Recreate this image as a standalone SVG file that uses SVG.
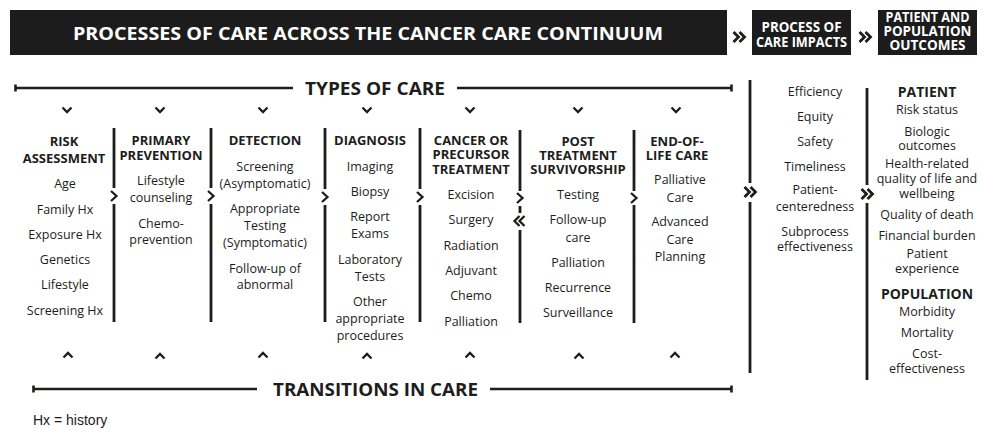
<svg xmlns="http://www.w3.org/2000/svg" width="986" height="432" viewBox="0 0 986 432">
  <defs>
    <style>
      text { font-family: "Open Sans", "Noto Sans", "Liberation Sans", sans-serif; fill: #1d1d1b; text-anchor: middle; }
      .t { font-size: 12.5px; }
      .h { font-size: 13px; font-weight: bold; }
      .hb { font-size: 14px; font-weight: bold; }
      .band { font-size: 18.5px; font-weight: bold; }
      .inv { fill: #ffffff; font-weight: bold; }
      .note { font-family: "Liberation Sans", Arial, sans-serif; font-size: 14px; text-anchor: start; }
      .bar { fill: #1c1c1c; }
      .rule { stroke: #1d1d1b; stroke-width: 2.6; fill: none; }
      .sep { stroke: #1d1d1b; stroke-width: 2.8; fill: none; }
      .chev { stroke: #1d1d1b; stroke-width: 2.3; fill: none; stroke-linecap: butt; stroke-linejoin: miter; }
      .chev2 { stroke: #1d1d1b; stroke-width: 2.8; fill: none; stroke-linejoin: miter; }
    </style>
    <!-- small chevrons used along the rules and separators -->
    <path id="down" class="chev" d="M-4.5,-2.5 L0,2 L4.5,-2.5"/>
    <path id="up" class="chev" d="M-4.5,2.5 L0,-2 L4.5,2.5"/>
    <path id="right" class="chev" d="M-3,-5 L2.5,0 L-3,5"/>
    <path id="left2" class="chev" d="M0.5,-5 L-4.5,0 L0.5,5 M5.5,-5 L0.5,0 L5.5,5"/>
    <path id="right2" class="chev2" d="M-5.5,-5 L-0.5,0 L-5.5,5 M0.5,-5 L5.5,0 L0.5,5"/>
  </defs>

  <rect width="986" height="432" fill="#ffffff"/>

  <!-- title bars -->
  <g id="header-processes">
    <rect class="bar" x="10" y="10" width="717" height="45"/>
    <text class="inv" x="368" y="39.5" font-size="18.5" textLength="590" lengthAdjust="spacingAndGlyphs">PROCESSES OF CARE ACROSS THE CANCER CARE CONTINUUM</text>
  </g>
  <g id="header-impacts">
    <rect class="bar" x="752" y="10" width="99" height="45"/>
    <text class="inv" x="801.5" y="32" font-size="14" textLength="80" lengthAdjust="spacingAndGlyphs">PROCESS OF</text>
    <text class="inv" x="801.5" y="46.5" font-size="14" textLength="91" lengthAdjust="spacingAndGlyphs">CARE IMPACTS</text>
  </g>
  <g id="header-outcomes">
    <rect class="bar" x="878" y="10" width="99" height="45"/>
    <text class="inv" x="927.5" y="22" font-size="13.5" textLength="84" lengthAdjust="spacingAndGlyphs">PATIENT AND</text>
    <text class="inv" x="927.5" y="36" font-size="13.5" textLength="88" lengthAdjust="spacingAndGlyphs">POPULATION</text>
    <text class="inv" x="927.5" y="50" font-size="13.5" textLength="76" lengthAdjust="spacingAndGlyphs">OUTCOMES</text>
  </g>

  <!-- band labels -->
  <g id="label-types">
    <text class="band" x="375" y="95" textLength="140" lengthAdjust="spacingAndGlyphs">TYPES OF CARE</text>
  </g>
  <g id="label-transitions">
    <text class="band" x="375.5" y="395.5" textLength="205" lengthAdjust="spacingAndGlyphs">TRANSITIONS IN CARE</text>
  </g>

  <!-- care columns -->
  <g id="risk-assessment">
    <text class="h" x="64" y="145.5">RISK</text>
    <text class="h" x="64" y="163">ASSESSMENT</text>
    <text class="t" x="65" y="188">Age</text>
    <text class="t" x="65" y="213.5">Family Hx</text>
    <text class="t" x="65" y="239">Exposure Hx</text>
    <text class="t" x="65" y="264">Genetics</text>
    <text class="t" x="65" y="289">Lifestyle</text>
    <text class="t" x="65" y="314.5">Screening Hx</text>
  </g>
  <g id="primary-prevention">
    <text class="h" x="161" y="145">PRIMARY</text>
    <text class="h" x="161" y="159.5">PREVENTION</text>
    <text class="t" x="161" y="185">Lifestyle</text>
    <text class="t" x="161" y="201.5">counseling</text>
    <text class="t" x="161" y="228">Chemo-</text>
    <text class="t" x="161" y="244">prevention</text>
  </g>
  <g id="detection">
    <text class="h" x="265" y="145">DETECTION</text>
    <text class="t" x="265" y="170.5">Screening</text>
    <text class="t" x="265" y="187.5">(Asymptomatic)</text>
    <text class="t" x="265" y="213">Appropriate</text>
    <text class="t" x="265" y="230">Testing</text>
    <text class="t" x="265" y="247">(Symptomatic)</text>
    <text class="t" x="265" y="272.5">Follow-up of</text>
    <text class="t" x="265" y="289">abnormal</text>
  </g>
  <g id="diagnosis">
    <text class="h" x="370" y="145">DIAGNOSIS</text>
    <text class="t" x="370" y="170.5">Imaging</text>
    <text class="t" x="370" y="195.5">Biopsy</text>
    <text class="t" x="370" y="220.5">Report</text>
    <text class="t" x="370" y="238">Exams</text>
    <text class="t" x="370" y="263.5">Laboratory</text>
    <text class="t" x="370" y="280.5">Tests</text>
    <text class="t" x="370" y="305.5">Other</text>
    <text class="t" x="370" y="323">appropriate</text>
    <text class="t" x="370" y="340">procedures</text>
  </g>
  <g id="treatment">
    <text class="h" x="471" y="145">CANCER OR</text>
    <text class="h" x="471" y="159">PRECURSOR</text>
    <text class="h" x="471" y="173.5">TREATMENT</text>
    <text class="t" x="471" y="199">Excision</text>
    <text class="t" x="471" y="224">Surgery</text>
    <text class="t" x="471" y="250">Radiation</text>
    <text class="t" x="471" y="275">Adjuvant</text>
    <text class="t" x="471" y="300">Chemo</text>
    <text class="t" x="471" y="325.5">Palliation</text>
  </g>
  <g id="survivorship">
    <text class="h" x="578" y="145.5">POST</text>
    <text class="h" x="578" y="159.5">TREATMENT</text>
    <text class="h" x="578" y="173.5">SURVIVORSHIP</text>
    <text class="t" x="578" y="199">Testing</text>
    <text class="t" x="578" y="224">Follow-up</text>
    <text class="t" x="578" y="242">care</text>
    <text class="t" x="578" y="267">Palliation</text>
    <text class="t" x="578" y="292">Recurrence</text>
    <text class="t" x="578" y="317">Surveillance</text>
  </g>
  <g id="end-of-life">
    <text class="h" x="677" y="146">END-OF-</text>
    <text class="h" x="677" y="159.5">LIFE CARE</text>
    <text class="t" x="680" y="184">Palliative</text>
    <text class="t" x="680" y="202">Care</text>
    <text class="t" x="680" y="225.5">Advanced</text>
    <text class="t" x="680" y="243.5">Care</text>
    <text class="t" x="680" y="260.5">Planning</text>
  </g>

  <!-- impacts column -->
  <g id="impacts">
    <text class="t" x="815" y="95.5">Efficiency</text>
    <text class="t" x="815" y="120.5">Equity</text>
    <text class="t" x="815" y="145.5">Safety</text>
    <text class="t" x="815" y="171">Timeliness</text>
    <text class="t" x="815" y="194">Patient-</text>
    <text class="t" x="815" y="210.5">centeredness</text>
    <text class="t" x="815" y="235.5">Subprocess</text>
    <text class="t" x="815" y="250.5">effectiveness</text>
  </g>

  <!-- outcomes column -->
  <g id="outcomes">
    <text class="hb" x="927" y="96.5">PATIENT</text>
    <text class="t" x="927" y="114">Risk status</text>
    <text class="t" x="927" y="135.5">Biologic</text>
    <text class="t" x="927" y="150">outcomes</text>
    <text class="t" x="927" y="168">Health-related</text>
    <text class="t" x="927" y="183">quality of life and</text>
    <text class="t" x="927" y="198">wellbeing</text>
    <text class="t" x="927" y="218.5">Quality of death</text>
    <text class="t" x="927" y="239.5">Financial burden</text>
    <text class="t" x="927" y="258">Patient</text>
    <text class="t" x="927" y="273">experience</text>
    <text class="hb" x="927" y="298.5">POPULATION</text>
    <text class="t" x="927" y="315.5">Morbidity</text>
    <text class="t" x="927" y="337">Mortality</text>
    <text class="t" x="927" y="358">Cost-</text>
    <text class="t" x="927" y="372.5">effectiveness</text>
  </g>

  <!-- rules, separators and chevrons -->
  <g id="connectors">
    <!-- top rule -->
    <path class="rule" d="M15,88 H293 M457,88 H732"/>
    <path class="rule" d="M15.5,84.5 V91.5 M731.5,84.5 V91.5"/>
    <!-- bottom rule -->
    <path class="rule" d="M33,389 H257 M490,389 H732"/>
    <path class="rule" d="M33.5,385.5 V392.5 M731.5,385.5 V392.5"/>

    <!-- column separators -->
    <path class="sep" d="M114,128 V188 M114,204 V322"/>
    <path class="sep" d="M211,128 V188 M211,204 V322"/>
    <path class="sep" d="M325,128 V189 M325,205 V322"/>
    <path class="sep" d="M420,128 V189 M420,205 V322"/>
    <path class="sep" d="M520,130 V191 M520,206 V213 M520,230 V323"/>
    <path class="sep" d="M634,130 V191 M634,205 V323"/>
    <path class="sep" d="M750,80 V183 M750,202 V373"/>
    <path class="sep" d="M867,88 V185 M867,203 V380"/>

    <!-- forward arrows between columns -->
    <use href="#right" x="114" y="196"/>
    <use href="#right" x="211" y="196"/>
    <use href="#right" x="325" y="197"/>
    <use href="#right" x="420" y="197"/>
    <use href="#right" x="520" y="198"/>
    <use href="#left2" x="519" y="221"/>
    <use href="#right" x="634" y="198"/>
    <use href="#right2" x="750" y="192"/>
    <use href="#right2" x="867" y="194"/>

    <!-- arrows between title bars -->
    <use href="#right2" x="739" y="37"/>
    <use href="#right2" x="865" y="37"/>

    <!-- down chevrons under the top rule -->
    <use href="#down" x="67" y="110"/>
    <use href="#down" x="160" y="110"/>
    <use href="#down" x="263" y="110"/>
    <use href="#down" x="367" y="110"/>
    <use href="#down" x="470" y="110"/>
    <use href="#down" x="578" y="110"/>
    <use href="#down" x="676" y="110"/>

    <!-- up chevrons above the bottom rule -->
    <use href="#up" x="68" y="355"/>
    <use href="#up" x="160" y="356"/>
    <use href="#up" x="263" y="355"/>
    <use href="#up" x="367" y="356"/>
    <use href="#up" x="470" y="355"/>
    <use href="#up" x="579" y="356"/>
    <use href="#up" x="675" y="355"/>
  </g>

  <g id="footnote">
    <text class="note" x="33" y="425">Hx = history</text>
  </g>
</svg>
